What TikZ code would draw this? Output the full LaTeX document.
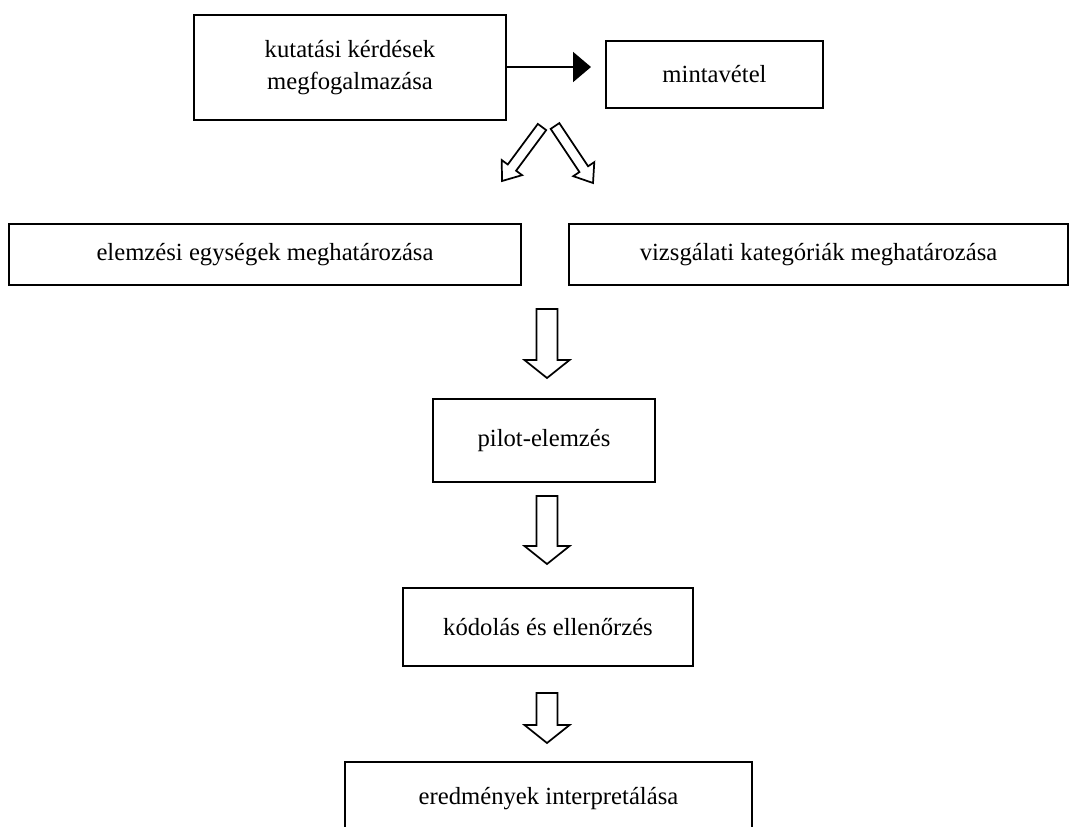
\documentclass[tikz,border=0pt]{standalone}
\usepackage{fontspec}
\setmainfont{Liberation Serif}
\usetikzlibrary{calc,arrows.meta}
\begin{document}
\begin{tikzpicture}[x=0.75pt,y=-0.75pt,
  box/.style={draw,line width=1.8pt,rectangle,inner sep=0pt,align=center,
    font=\fontsize{18.5}{24}\selectfont},
  blockarr/.style n args={3}{draw,line width=1.3pt,fill=white,line join=miter,
    to path={-- ($(\tikztostart)!#1!90:(\tikztotarget)$)
             -- ($(\tikztotarget)!#3!(\tikztostart)!#1!90:(\tikztotarget)$)
             -- ($(\tikztotarget)!#3!(\tikztostart)!#2!90:(\tikztotarget)$)
             -- (\tikztotarget)
             -- ($(\tikztotarget)!#3!(\tikztostart)!#2!-90:(\tikztotarget)$)
             -- ($(\tikztotarget)!#3!(\tikztostart)!#1!-90:(\tikztotarget)$)
             -- ($(\tikztostart)!#1!-90:(\tikztotarget)$)
             -- cycle}},
  bigarr/.style={blockarr={7.9pt}{16.9pt}{13.5pt}},
  smallarr/.style={blockarr={3.9pt}{9.5pt}{12.5pt}},
  flow/.style={line width=1.5pt,-{Triangle[length=13.5pt,width=22.5pt]}}]
\useasboundingbox (0,0) rectangle (1069,826);
\clip (0,0) rectangle (1069,826);

\node[box,minimum width=234pt,minimum height=78.75pt] (kq) at (350,67.5) {kutatási kérdések\\megfogalmazása};
\node[box,minimum width=162.75pt,minimum height=50.25pt] (mt) at (714.5,74.5) {mintavétel};
\node[box,minimum width=384pt,minimum height=45.75pt] (el) at (265,254.5) {elemzési egységek meghatározása};
\node[box,minimum width=374.25pt,minimum height=45.75pt] (vk) at (818.5,254.5) {vizsgálati kategóriák meghatározása};
\node[box,minimum width=166.5pt,minimum height=62.25pt] (pe) at (544,440.5) {pilot-elemzés};
\node[box,minimum width=217.5pt,minimum height=58.5pt] (ko) at (548,627) {kódolás és ellenőrzés};
\node[box,minimum width=305.25pt,minimum height=54.75pt] (er) at (548.5,798.5) {eredmények interpretálása};

\coordinate (hq) at (591,67);
\draw[flow] (kq.east |- hq) -- (hq);

\coordinate (dls) at (542,127);
\coordinate (dlt) at (502,181);
\coordinate (drs) at (555,126);
\coordinate (drt) at (593,183);
\draw[smallarr] (dls) to (dlt);
\draw[smallarr] (drs) to (drt);

\coordinate (a1s) at (547,309);
\coordinate (a1t) at (547,378);
\coordinate (a2s) at (547,496);
\coordinate (a2t) at (547,564);
\coordinate (a3s) at (547,693);
\coordinate (a3t) at (547,743);
\draw[bigarr] (a1s) to (a1t);
\draw[bigarr] (a2s) to (a2t);
\draw[bigarr] (a3s) to (a3t);
\end{tikzpicture}
\end{document}
